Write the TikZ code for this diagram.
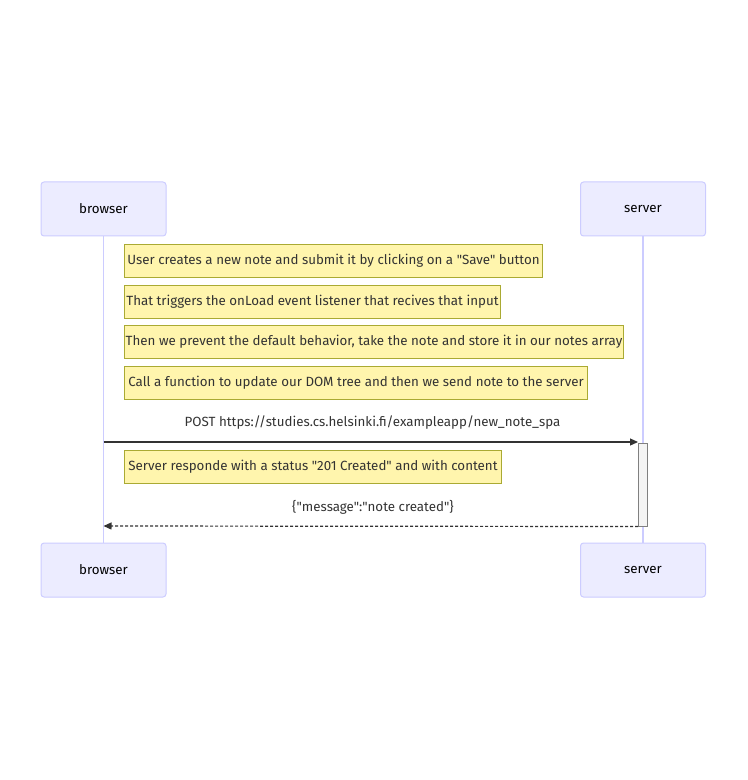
\documentclass[tikz,border=0pt]{standalone}
\usepackage{fontspec}
\setmainfont{Fira Sans}[Ligatures=TeXOff]
\usepackage{tikz}
\usepackage{xcolor}
\usetikzlibrary{arrows.meta}

\definecolor{actorfill}{HTML}{ECECFF}
\definecolor{actorline}{HTML}{CCCCFF}
\definecolor{notefill}{HTML}{FFF5AD}
\definecolor{noteline}{HTML}{AAAA33}
\definecolor{ink}{HTML}{333333}
\definecolor{actfill}{HTML}{F4F4F4}

\begin{document}
\begin{tikzpicture}[x=0.75pt, y=-0.75pt, font=\fontsize{10}{12}\selectfont, text=ink,
    actor/.style={draw=actorline, fill=actorfill, line width=0.75pt, rounded corners=2.25pt,
      minimum width=93.75pt, minimum height=40.5pt, text=black},
    note/.style={draw=noteline, fill=notefill, line width=0.75pt, anchor=west,
      minimum height=24.75pt, inner sep=0pt},
    life/.style={draw=actorline, line width=0.9pt},
    msg/.style={draw=ink, line width=0.9pt, -{Triangle[length=6pt, width=5.25pt]}},
    reply/.style={msg, dash pattern=on 2.25pt off 1.5pt},
    activation/.style={draw=gray, fill=actfill, line width=0.75pt, inner sep=0pt,
      minimum width=6.75pt, minimum height=62.25pt}]
    \useasboundingbox (0,0) rectangle (747,780);
    % Actors
    \node[actor] (browser) at (103.5,209) {browser};
    \node[actor] (server) at (643,209) {server};
    \node[actor] (browser2) at (103.5,570) {browser};
    \node[actor] (server2) at (643,570) {server};
    % Lifelines
    \draw[life] (browser) -- (browser2);
    \draw[life] (server) -- (server2);
    % Notes
    \node[note, minimum width=313.5pt] (save) at (124,261) {User creates a new note and submit it by clicking on a "Save" button};
    \node[note, minimum width=282pt] (trigger) at (124,301.5) {That triggers the onLoad event listener that recives that input};
    \node[note, minimum width=374.25pt] (prevent) at (124,342) {Then we prevent the default behavior, take the note and store it in our notes array};
    \node[note, minimum width=347.25pt] (update) at (124,382.5) {Call a function to update our DOM tree and then we send note to the server};
    % Request
    \node[activation] (act) at (643,484.5) {};
    \coordinate (post) at (103.5,442);
    \draw[msg] (post) -- (post -| act.west);
    \node (postlabel) at (372.5,423) {POST https://studies.cs.helsinki.fi/exampleapp/new\_note\_spa};
    \node[note, minimum width=282.75pt] (respond) at (124,467) {Server responde with a status "201 Created" and with content};
    % Response
    \coordinate (answer) at (103.5,526);
    \draw[reply] (act.south west) -- (answer);
    \node (answerlabel) at (373,507) {\{"message":"note created"\}};
\end{tikzpicture}
\end{document}
